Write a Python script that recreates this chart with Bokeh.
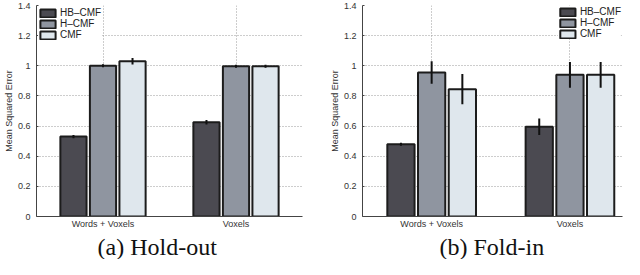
from bokeh.plotting import figure
from bokeh.models import ColumnDataSource, Range1d, FixedTicker, Title, Legend, LegendItem
from bokeh.layouts import row
from bokeh.embed import file_html
from bokeh.resources import INLINE

# ---- data ----
categories = ["Words + Voxels", "Voxels"]
series_names = ["HB–CMF", "H–CMF", "CMF"]
series_colors = ["#4b4a51", "#8f95a0", "#dfe7ed"]
y_ticks = [0, 0.2, 0.4, 0.6, 0.8, 1, 1.2, 1.4]
y_tick_labels = ["0", "0.2", "0.4", "0.6", "0.8", "1", "1.2", "1.4"]

holdout_hb = [0.53, 0.625]
holdout_hb_err = [0.01, 0.015]
holdout_h = [1.00, 0.997]
holdout_h_err = [0.01, 0.01]
holdout_cmf = [1.03, 0.997]
holdout_cmf_err = [0.022, 0.01]

foldin_hb = [0.48, 0.595]
foldin_hb_err = [0.01, 0.055]
foldin_h = [0.955, 0.94]
foldin_h_err = [0.075, 0.085]
foldin_cmf = [0.845, 0.94]
foldin_cmf_err = [0.10, 0.085]

caption_a = "(a) Hold-out"
caption_b = "(b) Fold-in"

FONT = "Liberation Sans"


def make_panel(means, errs, caption, width, xmax, min_left, min_right, cap_offset,
               legend_loc, legend_margin):
    p = figure(width=width, height=259, x_range=Range1d(0.5, xmax), y_range=Range1d(0, 1.4),
               output_backend="svg", toolbar_location=None,
               min_border_top=5, min_border_left=min_left, min_border_right=min_right,
               min_border_bottom=0)
    p.outline_line_color = None
    p.background_fill_color = "white"

    group_pos = [i + 1 for i in range(len(categories))]
    offsets = [-0.222, 0.0, 0.222]
    items = []
    for k, name in enumerate(series_names):
        m = means[k]
        e = errs[k]
        src = ColumnDataSource(dict(
            x=[g + offsets[k] for g in group_pos],
            top=m,
            lower=[a - b for a, b in zip(m, e)],
            upper=[a + b for a, b in zip(m, e)],
        ))
        r = p.vbar(x="x", top="top", bottom=0, width=0.197, source=src,
                   fill_color=series_colors[k], line_color="#1c1c1c", line_width=2)
        p.segment(x0="x", y0="lower", x1="x", y1="upper", source=src,
                  line_color="#111111", line_width=2)
        items.append(LegendItem(label=name, renderers=[r]))

    legend = Legend(items=items, location=legend_loc, margin=legend_margin, padding=3,
                    glyph_width=19, glyph_height=10, label_height=10, label_standoff=3,
                    spacing=0, label_text_font=FONT, label_text_font_size="10px",
                    label_text_color="#222222", border_line_color=None,
                    background_fill_color="white", background_fill_alpha=1.0)
    p.add_layout(legend)

    p.yaxis.ticker = FixedTicker(ticks=y_ticks)
    p.yaxis.major_label_overrides = dict(zip(y_ticks, y_tick_labels))
    p.yaxis.axis_label = "Mean Squared Error"
    p.yaxis.axis_label_text_font = FONT
    p.yaxis.axis_label_text_font_size = "9px"
    p.yaxis.axis_label_text_font_style = "normal"
    p.yaxis.axis_label_text_color = "#333333"
    p.yaxis.axis_label_standoff = 1
    p.xaxis.ticker = FixedTicker(ticks=group_pos)
    p.xaxis.major_label_overrides = dict(zip(group_pos, categories))

    p.axis.major_label_text_font = FONT
    p.axis.major_label_text_font_size = "9px"
    p.axis.major_label_text_color = "#333333"
    p.axis.axis_line_color = "#444444"
    p.axis.axis_line_width = 1
    p.axis.minor_tick_line_color = None
    p.axis.major_tick_in = 2
    p.axis.major_tick_out = 0
    p.axis.major_tick_line_color = "#444444"
    p.xaxis.major_tick_line_color = None
    p.yaxis.major_label_standoff = 6
    p.xaxis.major_label_standoff = 2

    p.grid.grid_line_color = "#9a9a9a"
    p.grid.grid_line_dash = "1 2"
    p.grid.grid_line_width = 1

    p.add_layout(Title(text=caption, align="left", offset=cap_offset,
                       text_font="Liberation Serif", text_font_size="24px",
                       text_font_style="normal", text_color="#111111", standoff=0), "below")
    return p


p1 = make_panel([holdout_hb, holdout_h, holdout_cmf],
                [holdout_hb_err, holdout_h_err, holdout_cmf_err],
                caption_a, 312, 2.5, 0, 10, 61, "top_left", 2)
p2 = make_panel([foldin_hb, foldin_h, foldin_cmf],
                [foldin_hb_err, foldin_h_err, foldin_cmf_err],
                caption_b, 312, 2.38, 50, 2, 77, "top_right", 1)

layout = row(p1, p2)
open("out.html", "w").write(file_html(layout, INLINE))
